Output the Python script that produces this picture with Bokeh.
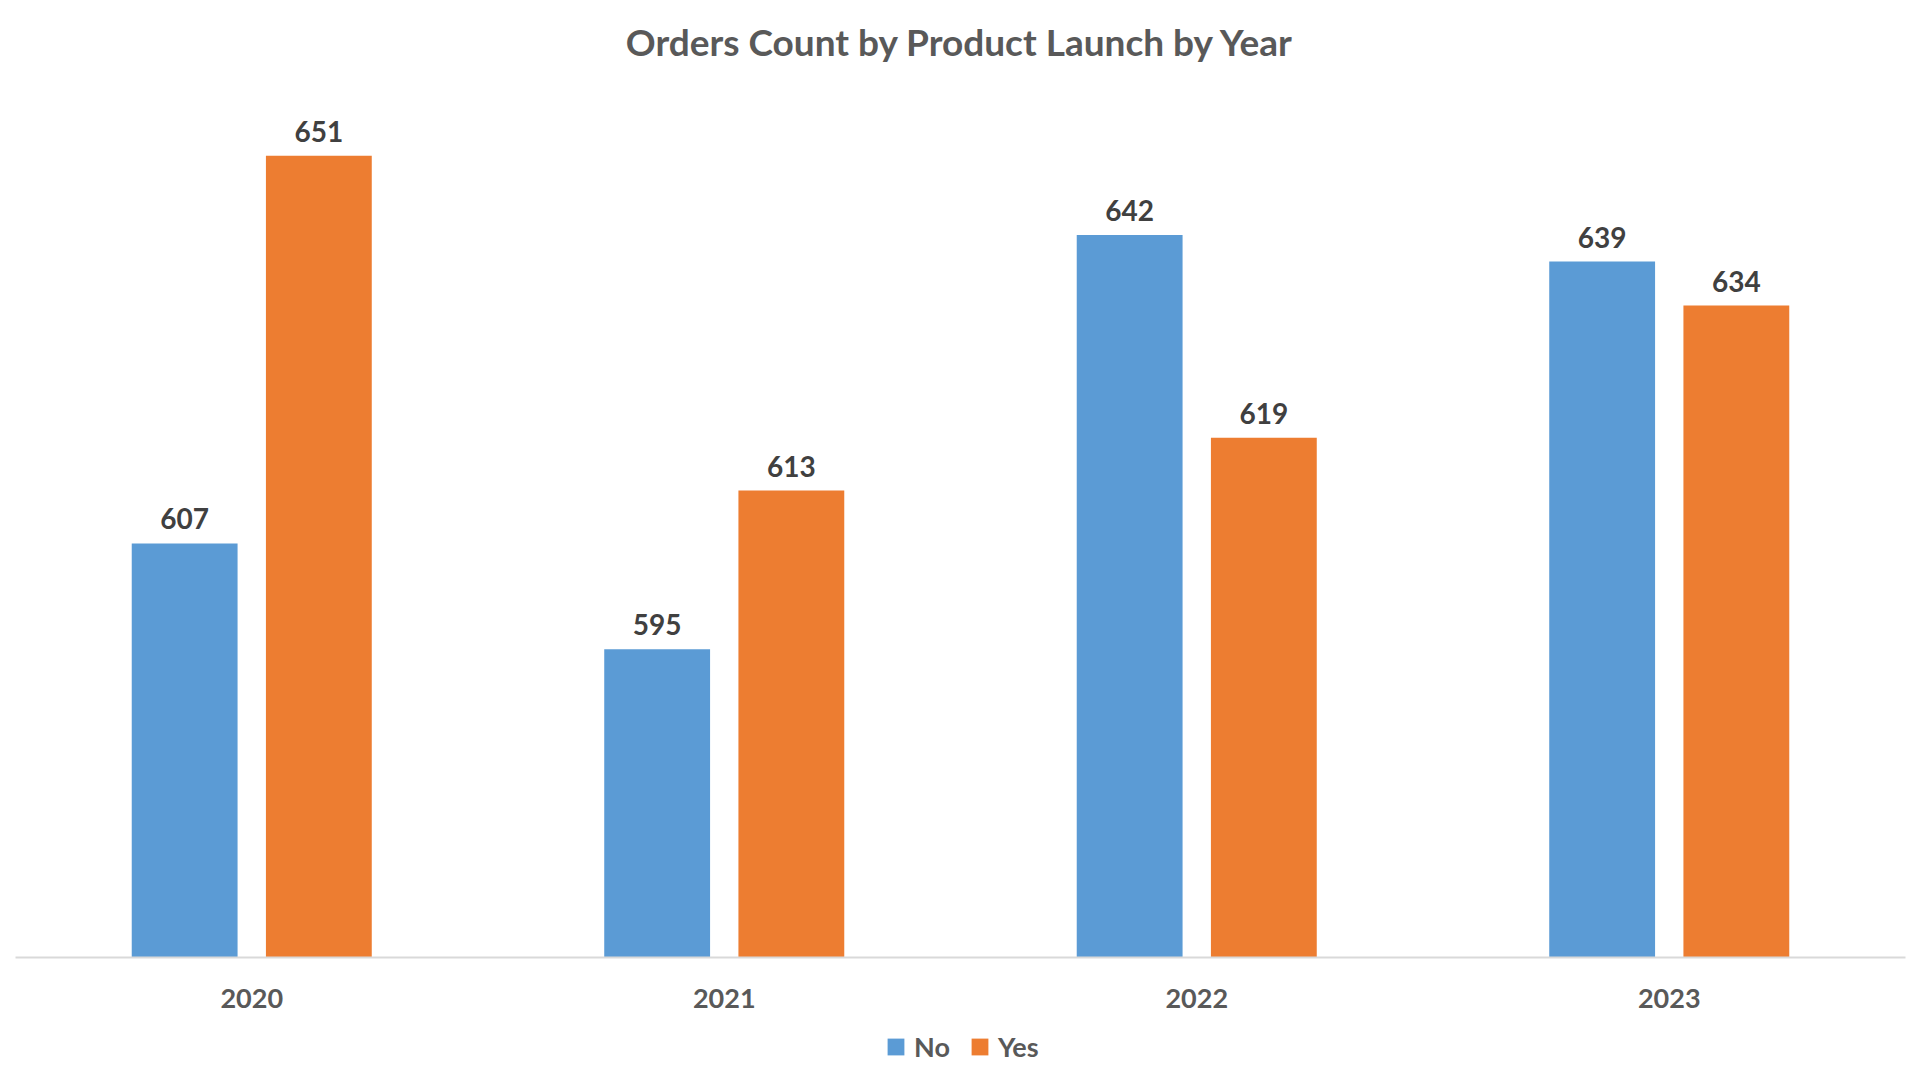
from bokeh.plotting import figure
from bokeh.models import ColumnDataSource, Range1d, FactorRange, LabelSet, Legend, LegendItem
from bokeh.layouts import column
from bokeh.transform import dodge
from bokeh.core.properties import value
from bokeh.embed import file_html
from bokeh.resources import INLINE

years = ["2020", "2021", "2022", "2023"]
no_counts = [607, 595, 642, 639]
yes_counts = [651, 613, 619, 634]
series_names = ["No", "Yes"]

BLUE = "#5B9BD5"
ORANGE = "#ED7D31"
FONT = "Lato"

src = ColumnDataSource(dict(
    year=years, no=no_counts, yes=yes_counts,
    no_lbl=[str(v) for v in no_counts], yes_lbl=[str(v) for v in yes_counts],
))

p = figure(width=1920, height=1020, x_range=FactorRange(*years), y_range=Range1d(560, 660),
           output_backend="svg", toolbar_location=None,
           title="Orders Count by Product Launch by Year",
           min_border_left=15, min_border_right=15, min_border_top=76, min_border_bottom=63)

p.title.align = "center"
p.title.text_font = FONT
p.title.text_font_size = "37px"
p.title.text_font_style = "bold"
p.title.text_color = "#595959"
p.title.standoff = 25

r_no = p.vbar(x=dodge("year", -0.142, range=p.x_range), top="no", bottom=560, width=0.224,
              source=src, color=BLUE, line_color=None)
r_yes = p.vbar(x=dodge("year", 0.142, range=p.x_range), top="yes", bottom=560, width=0.224,
               source=src, color=ORANGE, line_color=None)

for col, off in (("no", -0.142), ("yes", 0.142)):
    ls = LabelSet(x=dodge("year", off, range=p.x_range), y=col, text=col + "_lbl", source=src,
                  text_align="center", text_baseline="bottom", y_offset=14,
                  text_font=value(FONT), text_font_size="28px", text_font_style="bold",
                  text_color="#404040")
    p.add_layout(ls)

p.yaxis.visible = False
p.xgrid.grid_line_color = None
p.ygrid.grid_line_color = None
p.outline_line_color = None

xa = p.xaxis[0]
xa.axis_line_color = "#D9D9D9"
xa.axis_line_width = 2
xa.major_tick_line_color = None
xa.minor_tick_line_color = None
xa.major_label_standoff = 25
xa.major_label_text_font = FONT
xa.major_label_text_font_size = "27px"
xa.major_label_text_font_style = "bold"
xa.major_label_text_color = "#595959"

# legend strip under the chart (swatch renderers sit outside the visible range)
lf = figure(width=1920, height=60, x_range=Range1d(0, 1), y_range=Range1d(0, 1),
            output_backend="svg", toolbar_location=None,
            min_border_left=0, min_border_right=0, min_border_top=0, min_border_bottom=0)
lf.axis.visible = False
lf.grid.visible = False
lf.outline_line_color = None
g_no = lf.vbar(x=[-5], top=[-5], bottom=-6, width=0.1, color=BLUE, line_color=None)
g_yes = lf.vbar(x=[-5], top=[-5], bottom=-6, width=0.1, color=ORANGE, line_color=None)
legend = Legend(items=[LegendItem(label=series_names[0], renderers=[g_no]),
                       LegendItem(label=series_names[1], renderers=[g_yes])],
                orientation="horizontal", location=(870, 17),
                label_text_font=FONT, label_text_font_size="27px", label_text_font_style="bold",
                label_text_color="#595959", glyph_width=21, glyph_height=21,
                label_standoff=8, spacing=19, padding=0, margin=0,
                border_line_color=None, background_fill_alpha=0)
lf.add_layout(legend)

layout = column(p, lf, spacing=0)
open("out.html", "w").write(file_html(layout, INLINE))
